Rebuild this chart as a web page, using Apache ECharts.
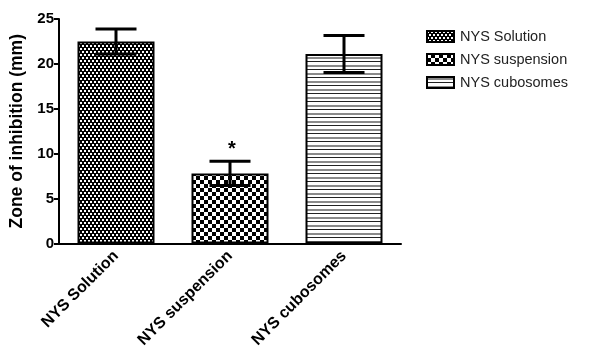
<!DOCTYPE html>
<html>
<head>
<meta charset="utf-8">
<script src="https://cdn.jsdelivr.net/npm/echarts@6/dist/echarts.min.js"></script>
<style>
html,body{margin:0;padding:0;background:#fff;}
#chart{width:598px;height:361px;}
</style>
</head>
<body>
<div id="chart"></div>
<script>
// ---- data ----
var categories = ['NYS Solution', 'NYS suspension', 'NYS cubosomes'];
var meanValues = [22.5, 7.8, 21.1];
var errorValues = [1.4, 1.35, 2.05];
var significance = ['', '*', ''];
var yTicks = [0, 5, 10, 15, 20, 25];

// ---- patterns ----
function makeTile(w, h, draw) {
  var c = document.createElement('canvas');
  c.width = w; c.height = h;
  var ctx = c.getContext('2d');
  draw(ctx);
  return { image: c, repeat: 'repeat' };
}
var patDots = makeTile(4, 6, function (ctx) {
  ctx.fillStyle = '#000'; ctx.fillRect(0, 0, 4, 6);
  ctx.fillStyle = '#fff';
  ctx.fillRect(0, 0, 2, 2);
  ctx.fillRect(2, 3, 2, 2);
});
var patChecker = makeTile(8, 8, function (ctx) {
  ctx.fillStyle = '#000'; ctx.fillRect(0, 0, 8, 8);
  ctx.fillStyle = '#fff';
  ctx.fillRect(0, 0, 4, 4);
  ctx.fillRect(4, 4, 4, 4);
});
var patStripes = makeTile(8, 8, function (ctx) {
  ctx.fillStyle = '#fff'; ctx.fillRect(0, 0, 8, 8);
  ctx.fillStyle = '#8a8a8a'; ctx.fillRect(0, 1, 8, 2);
  ctx.fillStyle = '#222'; ctx.fillRect(0, 5, 8, 1);
});
var patterns = [patDots, patChecker, patStripes];

var FONT = 'Liberation Sans, Arial, Helvetica, sans-serif';

var barSeries = categories.map(function (name, i) {
  return {
    name: name,
    type: 'bar',
    barWidth: 77,
    barGap: '-100%',
    data: categories.map(function (c, j) { return j === i ? meanValues[j] : '-'; }),
    itemStyle: { color: patterns[i], borderColor: '#000', borderWidth: 2 },
    emphasis: { disabled: true },
    z: 2
  };
});

var errData = categories.map(function (c, i) { return [i, meanValues[i], errorValues[i]]; });

var errorSeries = {
  type: 'custom',
  name: 'err',
  data: errData,
  z: 5,
  renderItem: function (params, api) {
    var x = api.value(0), m = api.value(1), e = api.value(2);
    var top = api.coord([x, m + e]);
    var bot = api.coord([x, m - e]);
    var half = 20.5;
    var style = { stroke: '#000', lineWidth: 3 };
    var children = [
      { type: 'line', shape: { x1: top[0], y1: top[1], x2: bot[0], y2: bot[1] }, style: style },
      { type: 'line', shape: { x1: top[0] - half, y1: top[1], x2: top[0] + half, y2: top[1] }, style: style },
      { type: 'line', shape: { x1: bot[0] - half, y1: bot[1], x2: bot[0] + half, y2: bot[1] }, style: style }
    ];
    var sig = significance[params.dataIndex];
    if (sig) {
      children.push({
        type: 'text',
        style: { text: sig, x: top[0] + 2, y: top[1] - 2, align: 'center', verticalAlign: 'bottom',
                 font: 'bold 20px ' + FONT, fill: '#000' }
      });
    }
    return { type: 'group', children: children };
  }
};

var chart = echarts.init(document.getElementById('chart'), null, { renderer: 'canvas' });
chart.setOption({
  animation: false,
  backgroundColor: '#fff',
  grid: { left: 59, top: 19, width: 342, height: 224.5, containLabel: false },
  legend: {
    data: categories.map(function (n) { return { name: n, icon: 'rect' }; }),
    orient: 'vertical',
    left: 421,
    top: 24,
    itemWidth: 27,
    itemHeight: 11,
    itemGap: 8,
    selectedMode: false,
    textStyle: { fontFamily: FONT, fontSize: 14.5, color: '#222', padding: [0, 0, 0, 1] }
  },
  xAxis: {
    type: 'category',
    data: categories,
    axisLine: { lineStyle: { color: '#000', width: 2 } },
    axisTick: { alignWithLabel: true, length: 6, lineStyle: { color: '#000', width: 2 } },
    axisLabel: { rotate: 45, margin: 10, fontFamily: FONT, fontWeight: 'bold', fontSize: 16, color: '#000', interval: 0 }
  },
  yAxis: {
    type: 'value',
    min: yTicks[0],
    max: yTicks[yTicks.length - 1],
    interval: 5,
    name: 'Zone of inhibition (mm)',
    nameLocation: 'middle',
    nameGap: 27,
    nameTextStyle: { fontFamily: FONT, fontWeight: 'bold', fontSize: 17.5, color: '#000' },
    axisLine: { show: true, lineStyle: { color: '#000', width: 2 } },
    axisTick: { show: true, length: 5, lineStyle: { color: '#000', width: 2 } },
    axisLabel: { margin: 5, fontFamily: FONT, fontWeight: 'bold', fontSize: 15, color: '#000' },
    splitLine: { show: false }
  },
  series: barSeries.concat([errorSeries])
});
</script>
</body>
</html>
